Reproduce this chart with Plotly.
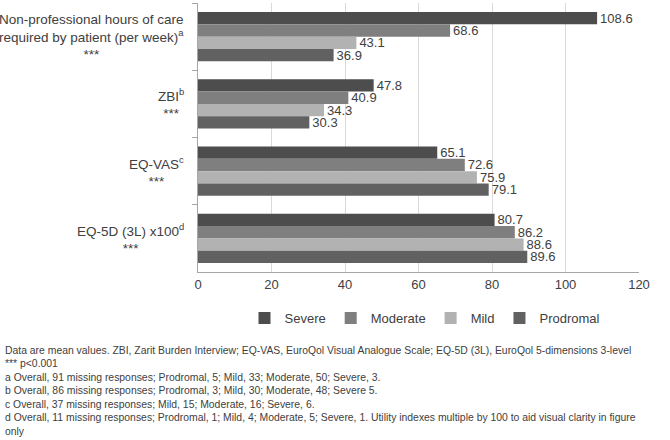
import plotly.graph_objects as go

categories = ["Non-professional hours of care<br>required by patient (per week)<sup>a</sup><br>***",
              "ZBI<sup>b</sup><br>***",
              "EQ-VAS<sup>c</sup><br>***",
              "EQ-5D (3L) x100<sup>d</sup><br>***"]
cat_keys = ["Hours", "ZBI", "EQ-VAS", "EQ-5D"]
series_names = ["Severe", "Moderate", "Mild", "Prodromal"]
severe = [108.6, 47.8, 65.1, 80.7]
moderate = [68.6, 40.9, 72.6, 86.2]
mild = [43.1, 34.3, 75.9, 88.6]
prodromal = [36.9, 30.3, 79.1, 89.6]
colors = ["#4d4d4d", "#7f7f7f", "#b2b2b2", "#616161"]
x_ticks = [0, 20, 40, 60, 80, 100, 120]

footnote_lines = [
    "Data are mean values. ZBI, Zarit Burden Interview; EQ-VAS, EuroQol Visual Analogue Scale; EQ-5D (3L), EuroQol 5-dimensions 3-level",
    "*** p&lt;0.001",
    "a Overall, 91 missing responses; Prodromal, 5; Mild, 33; Moderate, 50; Severe, 3.",
    "b Overall, 86 missing responses; Prodromal, 3; Mild, 30; Moderate, 48; Severe 5.",
    "c Overall, 37 missing responses; Mild, 15; Moderate, 16; Severe, 6.",
    "d Overall, 11 missing responses; Prodromal, 1; Mild, 4; Moderate, 5; Severe, 1. Utility indexes multiple by 100 to aid visual clarity in figure",
    "only",
]

FONT = "Liberation Sans"
PLOT_L, PLOT_R, PLOT_T, PLOT_B = 198, 639, 3, 272
PW, PH = PLOT_R - PLOT_L, PLOT_B - PLOT_T

fig = go.Figure()
for name, vals, col in zip(series_names, [severe, moderate, mild, prodromal], colors):
    fig.add_trace(go.Bar(
        name=name, y=cat_keys, x=vals, orientation="h",
        marker=dict(color=col, line=dict(width=0)),
        text=[f"{v:.1f}" for v in vals], textposition="outside",
        textfont=dict(size=13, color="#404040", family=FONT),
        cliponaxis=False, constraintext="none",
    ))

for key, label in zip(cat_keys, categories):
    fig.add_annotation(x=0, xref="paper", xanchor="right", xshift=-12,
                       y=key, yref="y", yanchor="middle",
                       text=label, align="center", showarrow=False,
                       font=dict(size=13.5, color="#404040", family=FONT))

for i, line in enumerate(footnote_lines):
    ypix = 350 + 13.5 * i
    fig.add_annotation(x=(3 - PLOT_L) / PW, xref="paper", xanchor="left",
                       y=(PLOT_B - ypix) / PH, yref="paper", yanchor="middle",
                       text=line, align="left", showarrow=False,
                       font=dict(size=10.4, color="#404040", family=FONT))

fig.update_layout(
    width=670, height=440,
    margin=dict(l=PLOT_L, r=670 - PLOT_R, t=PLOT_T, b=440 - PLOT_B, autoexpand=False),
    paper_bgcolor="white", plot_bgcolor="white",
    barmode="group", bargap=0.27, bargroupgap=0,
    showlegend=True,
    legend=dict(orientation="h", x=(425 - PLOT_L) / PW, xanchor="center", y=(PLOT_B - 318) / PH, yanchor="middle",
                traceorder="normal", font=dict(size=13, color="#404040", family=FONT),
                itemwidth=30),
    font=dict(family=FONT, color="#404040"),
)
fig.update_xaxes(range=[0, 120], tickvals=x_ticks, showgrid=True, gridcolor="#d9d9d9",
                 showline=True, linecolor="#a6a6a6", zeroline=False, ticks="",
                 tickfont=dict(size=13, color="#404040"))
fig.update_yaxes(autorange="reversed", showticklabels=False, showline=True, linecolor="#a6a6a6",
                 ticks="outside", tickson="boundaries", ticklen=5, tickcolor="#a6a6a6",
                 showgrid=False)

fig.write_html("out.html", config={"displayModeBar": False},
               post_script="document.body.style.margin='0';")
